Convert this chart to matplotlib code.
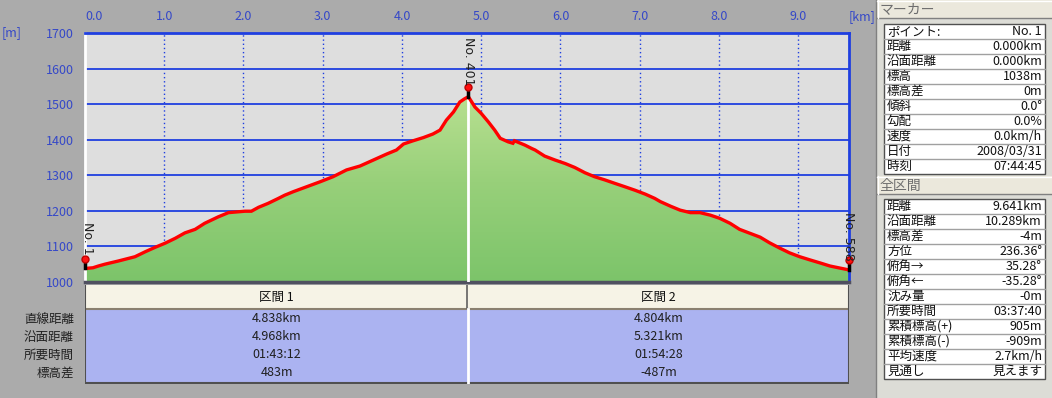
import matplotlib
matplotlib.use('Agg')
import matplotlib.pyplot as plt
import numpy as np
from matplotlib.patches import Rectangle
from matplotlib.colors import LinearSegmentedColormap

plt.rcParams['font.family'] = ['Noto Sans CJK JP', 'DejaVu Sans']

# ---------------- data ----------------
dist_km = [0.00, 0.10, 0.17, 0.25, 0.42, 0.63, 0.76, 0.88, 1.01, 1.14, 1.26, 1.39,
           1.51, 1.68, 1.81, 2.02, 2.10, 2.19, 2.31, 2.44, 2.52, 2.63, 2.80, 2.97,
           3.13, 3.30, 3.47, 3.64, 3.81, 3.93, 4.02, 4.14, 4.27, 4.39, 4.48, 4.56,
           4.65, 4.73, 4.79, 4.838, 4.92, 5.00, 5.09, 5.17, 5.24, 5.34, 5.40, 5.42,
           5.55, 5.64, 5.68, 5.80, 5.93, 6.06, 6.18, 6.31, 6.43, 6.56, 6.69, 6.81,
           6.94, 7.07, 7.19, 7.26, 7.39, 7.51, 7.64, 7.76, 7.89, 8.01, 8.14, 8.26,
           8.39, 8.52, 8.64, 8.77, 8.89, 9.02, 9.15, 9.27, 9.40, 9.53, 9.641]
elev_m = [1038, 1040, 1045, 1050, 1059, 1071, 1085, 1097, 1109, 1123, 1138, 1148,
          1165, 1183, 1195, 1199, 1199, 1210, 1221, 1235, 1244, 1254, 1268, 1282,
          1296, 1315, 1326, 1343, 1360, 1371, 1388, 1397, 1406, 1416, 1427, 1455,
          1478, 1506, 1515, 1521, 1492, 1474, 1450, 1427, 1404, 1394, 1390, 1397,
          1385, 1375, 1371, 1354, 1343, 1333, 1322, 1307, 1296, 1287, 1277, 1268,
          1258, 1247, 1235, 1226, 1213, 1202, 1195, 1195, 1188, 1179, 1165, 1148,
          1137, 1126, 1110, 1095, 1082, 1071, 1062, 1054, 1045, 1039, 1034]

x_ticks = [0, 1, 2, 3, 4, 5, 6, 7, 8, 9]
x_tick_labels = ['0.0', '1.0', '2.0', '3.0', '4.0', '5.0', '6.0', '7.0', '8.0', '9.0']
y_ticks = [1000, 1100, 1200, 1300, 1400, 1500, 1600, 1700]
total_km = 9.641

point_names = ['No. 1', 'No. 401', 'No. 588']
point_km = [0.0, 4.838, 9.641]
point_elev = [1038, 1521, 1034]

section_headers = ['区間 1', '区間 2']
section_row_labels = ['直線距離', '沿面距離', '所要時間', '標高差']
section1_values = ['4.838km', '4.968km', '01:43:12', '483m']
section2_values = ['4.804km', '5.321km', '01:54:28', '-487m']

marker_title = 'マーカー'
marker_labels = ['ポイント:', '距離', '沿面距離', '標高', '標高差', '傾斜', '勾配', '速度', '日付', '時刻']
marker_values = ['No. 1', '0.000km', '0.000km', '1038m', '0m', '0.0°', '0.0%', '0.0km/h',
                 '2008/03/31', '07:44:45']
total_title = '全区間'
total_labels = ['距離', '沿面距離', '標高差', '方位', '俯角→', '俯角←', '沈み量', '所要時間',
                '累積標高(+)', '累積標高(-)', '平均速度', '見通し']
total_values = ['9.641km', '10.289km', '-4m', '236.36°', '35.28°', '-35.28°', '-0m',
                '03:37:40', '905m', '-909m', '2.7km/h', '見えます']

# ---------------- styles ----------------
W, H = 1052, 398
BG = '#ababab'
PLOT_BG = '#dedede'
BLUE = '#1f3fe0'
LABEL_BLUE = '#3548c8'
FS = 9

fig = plt.figure(figsize=(W / 100, H / 100), dpi=100, facecolor=BG)


def frac(x0, y0, x1, y1):
    return [x0 / W, 1 - y1 / H, (x1 - x0) / W, (y1 - y0) / H]


# overlay (pixel coordinates) for decorations
ov = fig.add_axes([0, 0, 1, 1], zorder=0)
ov.set_xlim(0, W)
ov.set_ylim(H, 0)
ov.axis('off')

# ---------------- main profile axes ----------------
ax = fig.add_axes(frac(85, 33, 849, 282), zorder=2)
ax.set_facecolor(PLOT_BG)
ax.set_xlim(0, total_km)
ax.set_ylim(1000, 1700)

for yv in y_ticks[1:-1]:
    ax.axhline(yv, color=BLUE, lw=1.3, zorder=1)
for xv in x_ticks[1:]:
    ax.axvline(xv, color=BLUE, lw=1.0, ls=(0, (1, 2)), zorder=1)

# gradient fill under the profile
poly = ax.fill_between(dist_km, elev_m, 1000, facecolor='none', edgecolor='none', zorder=2)
cmap = LinearSegmentedColormap.from_list('g', ['#7cc46a', '#98d07a', '#bde294'])
grad = np.linspace(0, 1, 256).reshape(-1, 1)
im = ax.imshow(grad, extent=[0, total_km, 1000, 1560], origin='lower', cmap=cmap,
               aspect='auto', zorder=2)
im.set_clip_path(poly.get_paths()[0], transform=ax.transData)
ax.set_xlim(0, total_km)
ax.set_ylim(1000, 1700)

ax.plot(dist_km, elev_m, color='#ff0000', lw=2.4, zorder=4, solid_joinstyle='miter')

# white line at the peak
pk = int(np.argmax(elev_m))
ax.plot([dist_km[pk], dist_km[pk]], [1000, elev_m[pk]], color='white', lw=2, zorder=3)

# point markers
for name, xk, ev in zip(point_names, point_km, point_elev):
    ax.plot([xk, xk], [ev, ev + 24], color='black', lw=2.5, zorder=5, clip_on=False)
    ax.plot([xk], [ev + 28], marker='o', ms=5, mfc='#ff1010', mec='#c00000',
            zorder=6, clip_on=False)
top_text = {'No. 1': 1168, 'No. 401': 1690, 'No. 588': 1197}
text_dx = {'No. 1': 0.03, 'No. 401': 0.0, 'No. 588': -0.01}
for name, xk in zip(point_names, point_km):
    ax.text(xk + text_dx[name], top_text[name], name, rotation=270, ha='center', va='top',
            fontsize=FS, color='#202020', zorder=7, clip_on=False,
            family=['DejaVu Sans'])

# axes ticks
ax.xaxis.tick_top()
ax.set_xticks(x_ticks)
ax.set_xticklabels(x_tick_labels)
ax.set_yticks(y_ticks)
ax.set_yticklabels([str(v) for v in y_ticks])
ax.tick_params(axis='x', length=0, pad=7, labelsize=FS, labelcolor=LABEL_BLUE)
ax.tick_params(axis='y', length=0, pad=8, labelsize=FS, labelcolor=LABEL_BLUE)
ax.get_xticklabels()[0].set_ha('left')
for s in ['top', 'right']:
    ax.spines[s].set_color(BLUE)
    ax.spines[s].set_linewidth(2)
ax.spines['left'].set_color('white')
ax.spines['left'].set_linewidth(2)
ax.spines['bottom'].set_color('#505060')
ax.spines['bottom'].set_linewidth(2.5)

ov.text(862, 17, '[km]', ha='center', va='center', fontsize=FS, color=LABEL_BLUE)
ov.text(12, 33, '[m]', ha='center', va='center', fontsize=FS, color=LABEL_BLUE)

# ---------------- section table ----------------
tb = fig.add_axes(frac(85, 285, 849, 384), zorder=2)
tb.set_xlim(0, total_km)
tb.set_ylim(384, 285)
tb.axis('off')
tb.add_patch(Rectangle((0, 285), total_km, 23, facecolor='#f6f3e6', edgecolor='none'))
tb.add_patch(Rectangle((0, 309), total_km, 74, facecolor='#abb3f1', edgecolor='none'))
tb.plot([0, total_km], [308.5, 308.5], color='#8a8070', lw=1.5)
tb.plot([0, total_km], [383, 383], color='#505050', lw=1.5)
tb.plot([0, 0], [285, 384], color='#505050', lw=1.5)
tb.plot([total_km, total_km], [285, 384], color='#505050', lw=1.5)
tb.plot([point_km[1] - 0.02, point_km[1] - 0.02], [285, 308], color='#606060', lw=1.2)
tb.plot([point_km[1], point_km[1]], [309, 383], color='white', lw=2)

centers = [point_km[1] / 2, (point_km[1] + total_km) / 2]
for cx, hdr, vals in zip(centers, section_headers, [section1_values, section2_values]):
    tb.text(cx, 297, hdr, ha='center', va='center', fontsize=FS, color='#101010')
    for i, v in enumerate(vals):
        tb.text(cx, 319 + 18 * i, v, ha='center', va='center', fontsize=FS, color='#202020')
for i, lab in enumerate(section_row_labels):
    ov.text(74, 319 + 18 * i, lab, ha='right', va='center', fontsize=FS, color='#202020')

# ---------------- right info panel ----------------
ov.add_patch(Rectangle((876, 0), W - 876, H, facecolor='#dcdcd6', edgecolor='none'))
ov.plot([876, 876], [0, H], color='#808080', lw=1)


def header(y0, title):
    ov.add_patch(Rectangle((877, y0), W - 877, 18, facecolor='#ebe8dc', edgecolor='none'))
    ov.plot([877, W], [y0 + 18, y0 + 18], color='#808080', lw=1)
    ov.plot([877, W], [y0 + 0.5, y0 + 0.5], color='white', lw=1)
    ov.plot([877.5, 877.5], [y0, y0 + 18], color='white', lw=1)
    ov.text(880, y0 + 9.5, title, ha='left', va='center', fontsize=10, color='#6e6e6e')


def info_table(y0, labels, values):
    n = len(labels)
    hgt = 15 * n
    ov.add_patch(Rectangle((884, y0), 161, hgt, facecolor='white', edgecolor='#505050', lw=1))
    for i in range(1, n):
        ov.plot([884, 1045], [y0 + 15 * i, y0 + 15 * i], color='#a0a0a0', lw=1)
    for i, (lab, val) in enumerate(zip(labels, values)):
        yc = y0 + 15 * i + 7.5
        ov.text(887, yc, lab, ha='left', va='center', fontsize=FS, color='#101010')
        ov.text(1042, yc, val, ha='right', va='center', fontsize=FS, color='#101010')


header(0, marker_title)
info_table(24, marker_labels, marker_values)
header(176, total_title)
info_table(199, total_labels, total_values)

fig.savefig('out.png', dpi=100, facecolor=BG)
